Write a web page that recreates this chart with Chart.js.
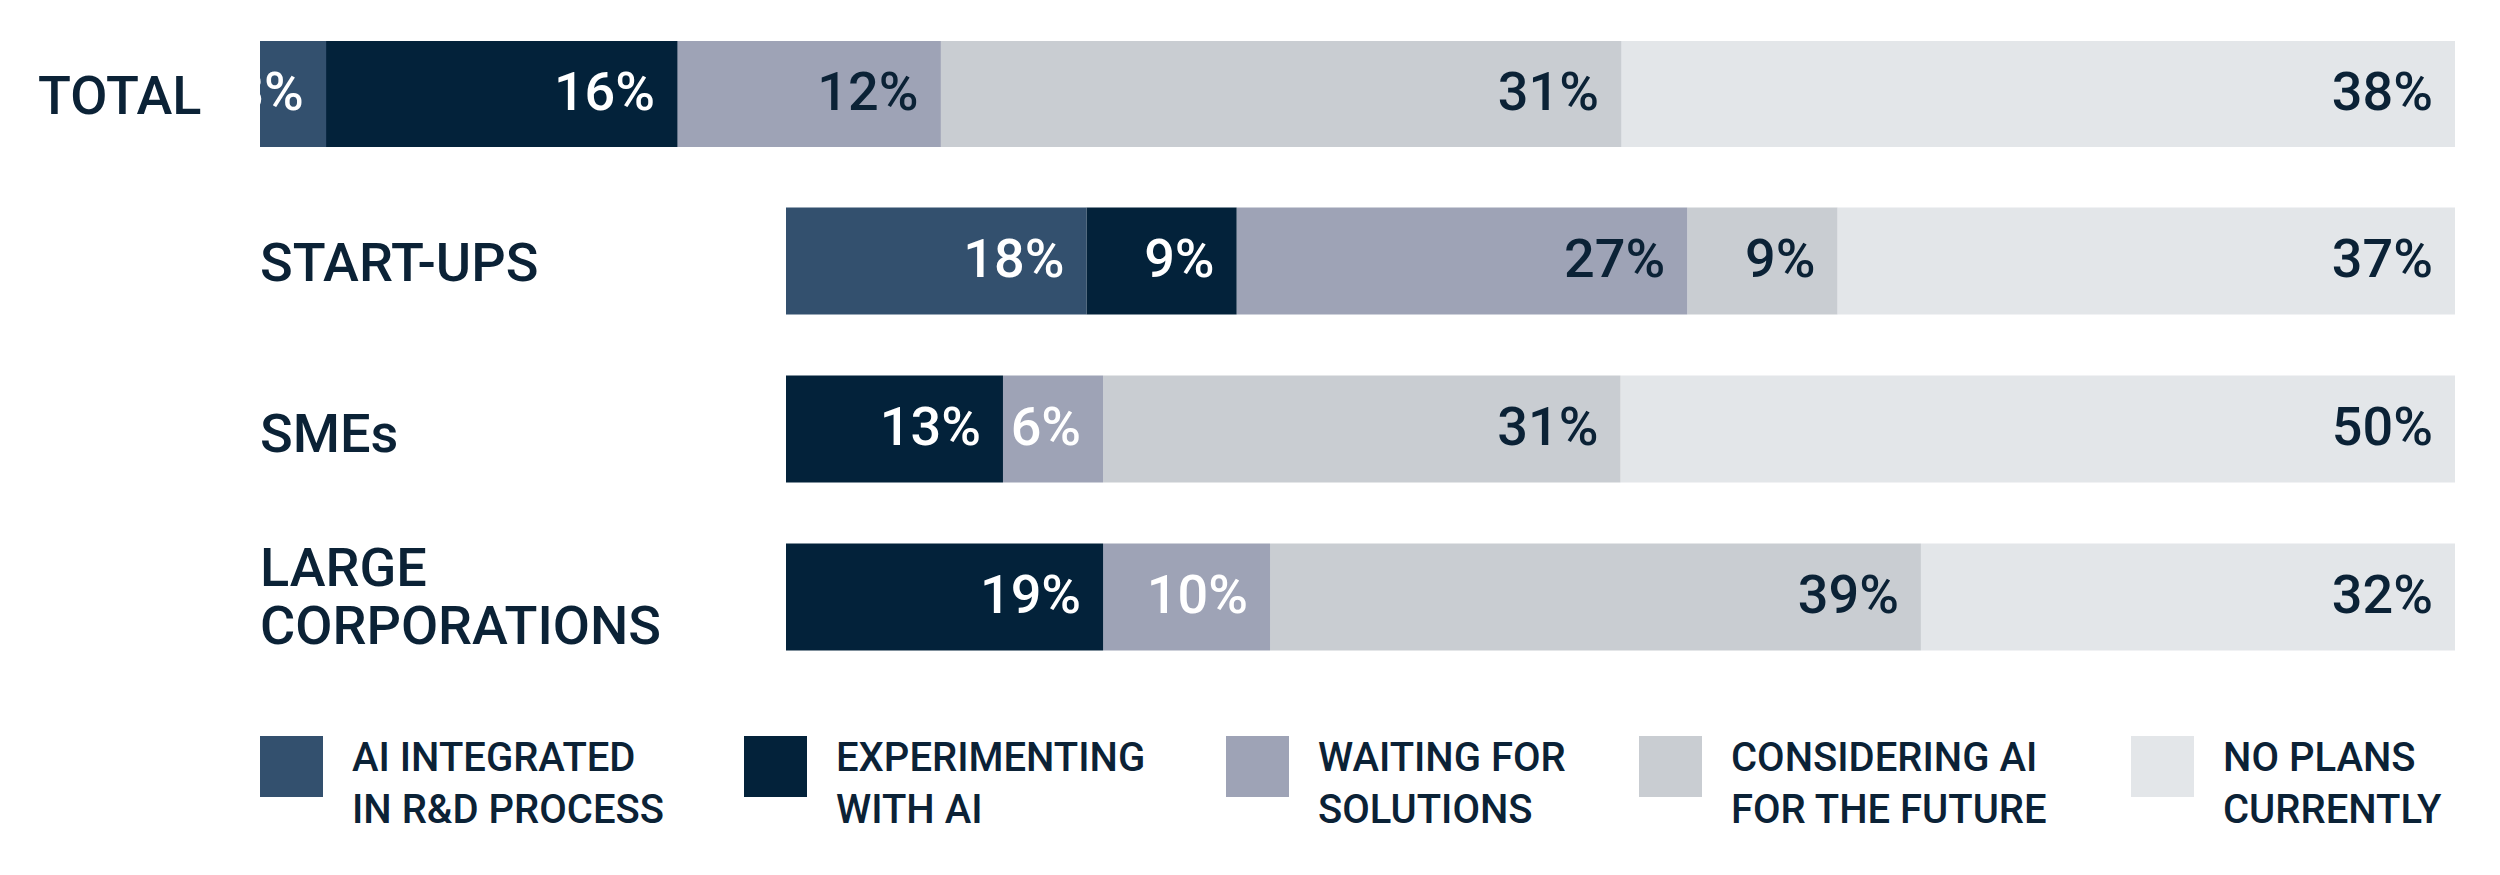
<!DOCTYPE html>
<html><head><meta charset="utf-8">
<script src="https://cdn.jsdelivr.net/npm/chart.js@4/dist/chart.umd.min.js"></script>
<style>
body{margin:0;width:2500px;height:875px;background:#fff;font-family:Roboto,sans-serif;color:#0b2236;position:relative;overflow:hidden}
.lab{position:absolute;font-size:54px;font-weight:500;line-height:58px;color:#0b2236}
.box{position:absolute}
.lg{position:absolute;top:736px;display:flex;align-items:flex-start}
.sw{width:63px;height:61px;margin-right:29px}
.lt{font-size:40px;font-weight:500;line-height:52px;margin-top:-4px}
</style></head><body>
<div class="lab" style="left:38px;top:67px">TOTAL</div>
<div class="lab" style="left:260px;top:234px">START-UPS</div>
<div class="lab" style="left:260px;top:405px">SMEs</div>
<div class="lab" style="left:260px;top:539px">LARGE<br>CORPORATIONS</div>
<div class="box" style="left:260px;top:41px;width:2195px;height:106px"><canvas id="c1"></canvas></div>
<div class="box" style="left:786px;top:177px;width:1669px;height:504px"><canvas id="c2"></canvas></div>
<div id="legend"></div>
<script>
const seriesNames=["AI INTEGRATED\nIN R&D PROCESS","EXPERIMENTING\nWITH AI","WAITING FOR\nSOLUTIONS","CONSIDERING AI\nFOR THE FUTURE","NO PLANS\nCURRENTLY"];
const colors=["#33506e","#03223a","#9ea3b6","#c9cdd2","#e3e6e9"];
const totalCats=["TOTAL"];
const totalVals=[[3],[16],[12],[31],[38]];
const groupCats=["START-UPS","SMEs","LARGE CORPORATIONS"];
const groupVals=[[18,0,0],[9,13,19],[27,6,10],[9,31,39],[37,50,32]];
const labelColors=[["#fff"],["#fff"],["#0b2236"],["#0b2236"],["#0b2236"]];
const groupLabelColors=[["#fff","#fff","#fff"],["#fff","#fff","#fff"],["#0b2236","#fff","#fff"],["#0b2236","#0b2236","#0b2236"],["#0b2236","#0b2236","#0b2236"]];
const lblPlugin={id:'lbl',afterDatasetsDraw(ch,a,opts){const ctx=ch.ctx;ctx.save();ctx.font='500 54px Roboto';ctx.textAlign='right';ctx.textBaseline='middle';
ch.data.datasets.forEach((ds,i)=>{ch.getDatasetMeta(i).data.forEach((el,j)=>{const v=ds.data[j];if(!v)return;ctx.fillStyle=opts.cols[i][j];ctx.fillText(v+'%',el.x-22,el.y+2);});});ctx.restore();}};
function mk(id,cats,vals,cols,bp){
 new Chart(document.getElementById(id),{type:'bar',
 data:{labels:cats,datasets:vals.map((v,i)=>({label:seriesNames[i],data:v,backgroundColor:colors[i],borderWidth:0,barPercentage:bp,categoryPercentage:1}))},
 options:{indexAxis:'y',responsive:true,maintainAspectRatio:false,animation:false,layout:{padding:0},
 scales:{x:{stacked:true,min:0,max:100,display:false},y:{stacked:true,display:false}},
 plugins:{legend:{display:false},tooltip:{enabled:false},lbl:{cols:cols}}},plugins:[lblPlugin]});
}
mk('c1',totalCats,totalVals,labelColors,1);
mk('c2',groupCats,groupVals,groupLabelColors,0.637);
const lx=[260,744,1226,1639,2131];
const L=document.getElementById('legend');
seriesNames.forEach((n,i)=>{const d=document.createElement('div');d.className='lg';d.style.left=lx[i]+'px';
d.innerHTML='<div class="sw" style="background:'+colors[i]+'"></div><div class="lt">'+n.replace('&','&amp;').replace('\n','<br>')+'</div>';L.appendChild(d);});
</script></body></html>
